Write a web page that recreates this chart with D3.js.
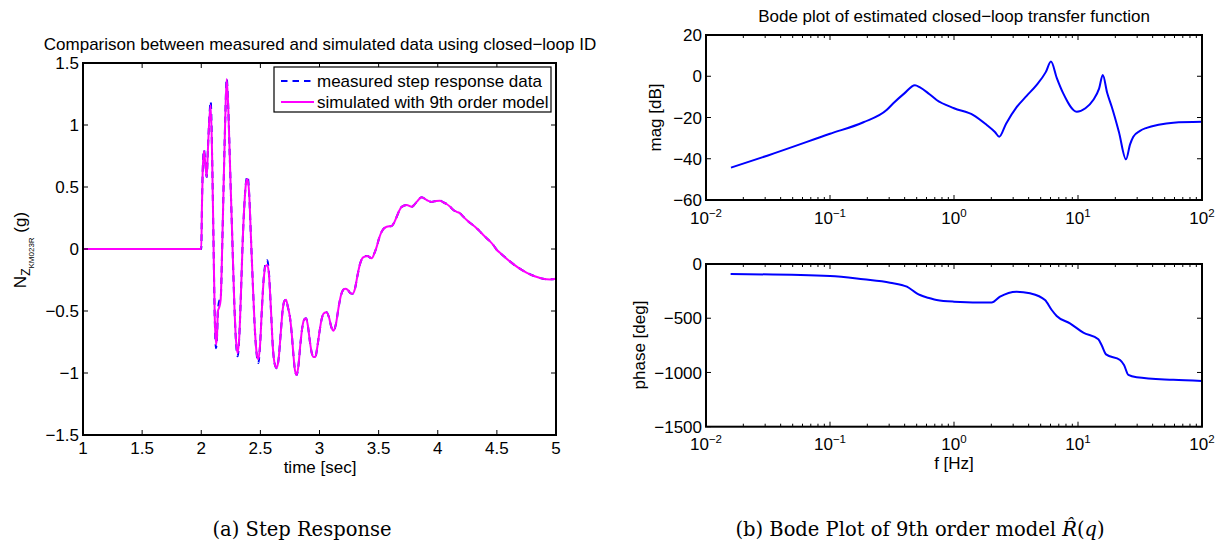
<!DOCTYPE html>
<html><head><meta charset="utf-8">
<script src="https://cdn.jsdelivr.net/npm/d3@7"></script>
<style>
body{margin:0;background:#fff}
text{font-family:"Liberation Sans",Arial,Helvetica,sans-serif;fill:#000}
.cap{font-family:"DejaVu Serif","Liberation Serif",serif}
</style>
</head><body>
<svg id="chart" width="1225" height="547"></svg>
<script>
// ---------- Data: step response (time in s, N_Z in g) ----------
const stepTime = [1.000,2.000,2.006,2.012,2.023,2.034,2.046,2.056,2.068,2.080,2.092,2.103,2.114,2.125,2.133,2.141,2.152,2.164,2.178,2.190,2.203,2.215,2.228,2.245,2.262,2.280,2.294,2.308,2.322,2.336,2.350,2.366,2.380,2.392,2.405,2.420,2.437,2.455,2.470,2.483,2.497,2.512,2.527,2.543,2.559,2.573,2.590,2.606,2.622,2.638,2.655,2.672,2.690,2.703,2.717,2.733,2.750,2.765,2.780,2.793,2.807,2.822,2.838,2.855,2.870,2.886,2.902,2.918,2.935,2.950,2.965,2.980,2.998,3.015,3.035,3.060,3.080,3.100,3.120,3.140,3.160,3.180,3.200,3.216,3.240,3.260,3.280,3.300,3.320,3.340,3.369,3.404,3.441,3.462,3.484,3.505,3.526,3.568,3.610,3.630,3.653,3.675,3.695,3.737,3.780,3.800,3.822,3.864,3.906,3.949,3.985,4.019,4.050,4.075,4.105,4.132,4.160,4.188,4.215,4.245,4.280,4.315,4.350,4.385,4.430,4.470,4.500,4.526,4.610,4.680,4.750,4.820,4.890,4.950,5.000];
const measured = [0,0,0.35,0.62,0.80,0.70,0.58,0.80,1.05,1.19,0.75,0.10,-0.55,-0.80,-0.72,-0.50,-0.42,-0.40,0.05,0.55,1.05,1.376,1.15,0.62,0.10,-0.45,-0.75,-0.865,-0.70,-0.35,0.05,0.38,0.55,0.585,0.45,0.10,-0.30,-0.68,-0.86,-0.92,-0.78,-0.50,-0.25,-0.12,-0.09,-0.20,-0.50,-0.80,-0.93,-0.962,-0.88,-0.68,-0.48,-0.42,-0.41,-0.47,-0.55,-0.68,-0.86,-0.98,-1.016,-0.94,-0.77,-0.63,-0.57,-0.559,-0.62,-0.74,-0.84,-0.87,-0.87,-0.80,-0.68,-0.58,-0.52,-0.51,-0.55,-0.63,-0.659,-0.60,-0.48,-0.38,-0.33,-0.32,-0.33,-0.355,-0.36,-0.32,-0.22,-0.13,-0.067,-0.056,-0.075,-0.04,0.019,0.09,0.14,0.18,0.185,0.21,0.26,0.31,0.34,0.355,0.34,0.355,0.38,0.417,0.395,0.38,0.388,0.39,0.375,0.363,0.34,0.315,0.30,0.288,0.262,0.234,0.205,0.18,0.148,0.113,0.073,0.032,-0.008,-0.03,-0.10,-0.15,-0.19,-0.22,-0.24,-0.245,-0.24];
const simulated = [0,0,0.35,0.62,0.79,0.69,0.58,0.79,1.04,1.16,0.74,0.10,-0.54,-0.77,-0.71,-0.50,-0.47,-0.41,0.05,0.55,1.05,1.37,1.15,0.62,0.10,-0.45,-0.74,-0.84,-0.70,-0.35,0.05,0.38,0.54,0.565,0.45,0.10,-0.30,-0.67,-0.85,-0.89,-0.78,-0.50,-0.26,-0.14,-0.13,-0.21,-0.50,-0.80,-0.93,-0.96,-0.88,-0.68,-0.48,-0.42,-0.41,-0.47,-0.55,-0.68,-0.86,-0.98,-1.016,-0.94,-0.77,-0.63,-0.57,-0.559,-0.62,-0.74,-0.84,-0.87,-0.87,-0.80,-0.68,-0.58,-0.52,-0.51,-0.55,-0.63,-0.659,-0.60,-0.48,-0.38,-0.33,-0.32,-0.33,-0.355,-0.36,-0.32,-0.22,-0.13,-0.067,-0.056,-0.075,-0.04,0.019,0.09,0.14,0.18,0.185,0.21,0.26,0.31,0.34,0.355,0.34,0.355,0.38,0.417,0.395,0.38,0.388,0.39,0.375,0.363,0.34,0.315,0.30,0.288,0.262,0.234,0.205,0.18,0.148,0.113,0.073,0.032,-0.008,-0.03,-0.10,-0.15,-0.19,-0.22,-0.24,-0.245,-0.24];

// ---------- Data: Bode plot ----------
const magFreq = [0.0159,0.0316,0.1,0.186,0.286,0.324,0.398,0.484,0.532,0.631,0.724,1,1.432,1.837,2.138,2.317,2.630,3.199,3.855,4.645,5.495,6.053,6.761,7.603,9.772,11.48,13.27,14.79,15.85,17.18,18.71,21.38,24.38,26.30,27.93,31.62,35.81,44.67,58.75,100];
const magDb = [-44.3,-38.4,-27.9,-22.3,-16.4,-13.1,-8.3,-4.4,-5.4,-8.6,-11.5,-15.5,-18.8,-23.6,-27.0,-29.3,-23.0,-15.0,-9.5,-4.2,2.0,7.1,-1.0,-8.3,-17.2,-15.5,-11.5,-6.0,0.6,-8.0,-14.8,-27.0,-40.3,-33.0,-29.3,-26.5,-25.0,-23.5,-22.5,-22.1];
const phaseFreq = [0.0158,0.1,0.186,0.305,0.417,0.501,0.532,0.64,0.724,1,2.01,2.35,3.2,4.1,5.42,6.14,6.73,8.61,11.04,14.59,15.49,16.83,21.83,23.5,25.47,29.72,58.7,100];
const phaseDeg = [-92,-111,-141,-172,-209,-270,-286,-316,-332,-347,-356,-301,-255,-270,-332,-424,-479,-547,-633,-694,-747,-833,-885,-931,-1023,-1045,-1068,-1079];

// ---------- Tick values / labels ----------
const stepXTicks = [1,1.5,2,2.5,3,3.5,4,4.5,5];
const stepYTicks = [-1.5,-1,-0.5,0,0.5,1,1.5];
const magTicks = [-60,-40,-20,0,20];
const phaseTicks = [-1500,-1000,-500,0];
const freqTicks = [0.01,0.1,1,10,100];
const freqExp = ["−2","−1","0","1","2"];
const legendLabels = ["measured step response data","simulated with 9th order model"];

const svg = d3.select("#chart");
svg.append("rect").attr("width",1225).attr("height",547).attr("fill","#fff");
const FS = 17;

function boxAxes(g, x, y, xt, yt, opts) {
  const [x0,x1] = x.range(), [y0,y1] = [y.range()[1], y.range()[0]];
  const TL = 5;
  xt.forEach(v => {
    const px = x(v);
    g.append("line").attr("x1",px).attr("x2",px).attr("y1",y1).attr("y2",y1-TL).attr("stroke","#000").attr("stroke-width",1);
    g.append("line").attr("x1",px).attr("x2",px).attr("y1",y0).attr("y2",y0+TL).attr("stroke","#000").attr("stroke-width",1);
  });
  if (opts.minor) opts.minor.forEach(v => {
    const px = x(v);
    g.append("line").attr("x1",px).attr("x2",px).attr("y1",y1).attr("y2",y1-3).attr("stroke","#000").attr("stroke-width",1);
    g.append("line").attr("x1",px).attr("x2",px).attr("y1",y0).attr("y2",y0+3).attr("stroke","#000").attr("stroke-width",1);
  });
  yt.forEach(v => {
    const py = y(v);
    g.append("line").attr("x1",x0).attr("x2",x0+TL).attr("y1",py).attr("y2",py).attr("stroke","#000").attr("stroke-width",1);
    g.append("line").attr("x1",x1).attr("x2",x1-TL).attr("y1",py).attr("y2",py).attr("stroke","#000").attr("stroke-width",1);
    g.append("text").attr("x",x0-4).attr("y",py).attr("dy","0.36em").attr("text-anchor","end")
      .attr("font-size",FS).text(opts.yfmt(v));
  });
  g.append("rect").attr("x",x0).attr("y",y0).attr("width",x1-x0).attr("height",y1-y0)
    .attr("fill","none").attr("stroke","#000").attr("stroke-width",2);
}

// ---------- Left: step response ----------
const xs = d3.scaleLinear().domain([1,5]).range([83,556]);
const ys = d3.scaleLinear().domain([-1.5,1.5]).range([435,63]);
const gL = svg.append("g");
const fmt = d3.format("");
const stepLine = arr => d3.line().x((d,i)=>xs(stepTime[i])).y(d=>ys(d)).curve(d3.curveMonotoneX)(arr);
gL.append("path").attr("d",stepLine(measured)).attr("fill","none").attr("stroke","#0000ff")
  .attr("stroke-width",2).attr("stroke-dasharray","6.5,5");
gL.append("path").attr("d",stepLine(simulated)).attr("fill","none").attr("stroke","#ff00ff")
  .attr("stroke-width",2);
boxAxes(gL, xs, ys, stepXTicks, stepYTicks, {yfmt: v => fmt(v)});
stepXTicks.forEach(v => gL.append("text").attr("x",xs(v)).attr("y",454).attr("text-anchor","middle")
  .attr("font-size",FS).text(fmt(v)));
gL.append("text").attr("x",320).attr("y",50).attr("text-anchor","middle").attr("font-size",FS)
  .text("Comparison between measured and simulated data using closed−loop ID");
gL.append("text").attr("x",320).attr("y",473).attr("text-anchor","middle").attr("font-size",FS).text("time [sec]");
const yl = gL.append("text").attr("transform","translate(26,250) rotate(-90)").attr("text-anchor","middle").attr("font-size",FS);
yl.append("tspan").text("N");
yl.append("tspan").attr("dy",4).attr("font-size",12).text("Z");
yl.append("tspan").attr("dy",4).attr("font-size",8).text("KM023R");
yl.append("tspan").attr("dy",-8).attr("font-size",FS).text(" (g)");

// legend
const lg = gL.append("g");
lg.append("rect").attr("x",274).attr("y",67).attr("width",277).attr("height",45).attr("fill","#fff").attr("stroke","#000").attr("stroke-width",1.2);
const lgStyles = [{c:"#0000ff",d:"6.5,5"},{c:"#ff00ff",d:null}];
legendLabels.forEach((t,i) => {
  const yy = 81 + i*21;
  const ln = lg.append("line").attr("x1",281).attr("x2",314).attr("y1",yy).attr("y2",yy).attr("stroke",lgStyles[i].c).attr("stroke-width",2);
  if (lgStyles[i].d) ln.attr("stroke-dasharray",lgStyles[i].d);
  lg.append("text").attr("x",317).attr("y",yy+5.5).attr("font-size",FS).text(t);
});

// ---------- Right: Bode ----------
const xf = d3.scaleLog().domain([0.01,100]).range([706,1202]);
const minor = [];
for (let e=-2;e<2;e++) for (let k=2;k<10;k++) minor.push(k*Math.pow(10,e));
const ym = d3.scaleLinear().domain([-60,20]).range([200,35]);
const yp = d3.scaleLinear().domain([-1500,0]).range([426.7,264]);

function freqLabels(g, baseY) {
  freqTicks.forEach((v,i) => {
    const t = g.append("text").attr("x",xf(v)).attr("y",baseY).attr("text-anchor","middle").attr("font-size",FS);
    t.append("tspan").text("10");
    t.append("tspan").attr("dy",-7).attr("font-size",11.5).text(freqExp[i]);
  });
}

const gM = svg.append("g");
gM.append("path").attr("d", d3.line().x((d,i)=>xf(magFreq[i])).y(d=>ym(d)).curve(d3.curveMonotoneX)(magDb))
  .attr("fill","none").attr("stroke","#0000ff").attr("stroke-width",2);
boxAxes(gM, xf, ym, freqTicks, magTicks, {yfmt: v=>fmt(v), minor});
freqLabels(gM, 224);
gM.append("text").attr("x",954).attr("y",22).attr("text-anchor","middle").attr("font-size",FS)
  .text("Bode plot of estimated closed−loop transfer function");
gM.append("text").attr("transform","translate(661,117.5) rotate(-90)").attr("text-anchor","middle").attr("font-size",FS).text("mag [dB]");

const gP = svg.append("g");
gP.append("path").attr("d", d3.line().x((d,i)=>xf(phaseFreq[i])).y(d=>yp(d)).curve(d3.curveMonotoneX)(phaseDeg))
  .attr("fill","none").attr("stroke","#0000ff").attr("stroke-width",2);
boxAxes(gP, xf, yp, freqTicks, phaseTicks, {yfmt: v=>fmt(v), minor});
freqLabels(gP, 450);
gP.append("text").attr("x",954).attr("y",469).attr("text-anchor","middle").attr("font-size",FS).text("f [Hz]");
gP.append("text").attr("transform","translate(645,345) rotate(-90)").attr("text-anchor","middle").attr("font-size",FS).text("phase [deg]");

// ---------- Captions ----------
svg.append("text").attr("class","cap").attr("x",302).attr("y",536).attr("text-anchor","middle").attr("font-size",19.5).text("(a) Step Response");
const cb = svg.append("text").attr("class","cap").attr("x",920).attr("y",536).attr("text-anchor","middle").attr("font-size",19.5);
cb.append("tspan").text("(b) Bode Plot of 9th order model ");
cb.append("tspan").attr("font-style","italic").text("R\u0302");
cb.append("tspan").text("(");
cb.append("tspan").attr("font-style","italic").text("q");
cb.append("tspan").text(")");
</script>
</body></html>
